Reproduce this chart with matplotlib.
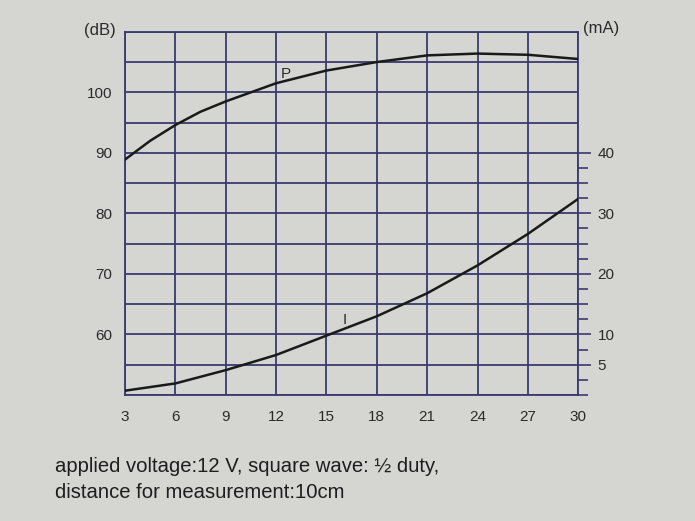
import matplotlib
matplotlib.use("Agg")
import matplotlib.pyplot as plt
from matplotlib.ticker import MultipleLocator

plt.rcParams['font.family'] = ['Liberation Sans', 'DejaVu Sans']

# sound pressure P (dB) vs voltage (V)
volts_p = [3, 4.5, 6, 7.5, 9, 12, 15, 18, 21, 24, 27, 30]
p_db = [88.9, 92.0, 94.6, 96.8, 98.5, 101.5, 103.6, 105.0, 106.1, 106.4, 106.2, 105.5]

# current I (mA) vs voltage (V)
volts_i = [3, 6, 9, 12, 15, 18, 21, 24, 27, 30]
i_ma = [0.7, 1.9, 4.1, 6.6, 9.8, 13.0, 16.8, 21.4, 26.6, 32.4]

x_ticks = [3, 6, 9, 12, 15, 18, 21, 24, 27, 30]
db_labels = [60, 70, 80, 90, 100]
ma_labels = [5, 10, 20, 30, 40]

bg = '#d5d5d1'
grid_col = '#3b3a70'
txt = '#2b2b2b'

fig = plt.figure(figsize=(6.95, 5.21), dpi=100, facecolor=bg)
ax = fig.add_axes([0.180, 0.242, 0.652, 0.697])
ax.set_facecolor(bg)

ax.plot(volts_p, p_db, color='#1a1a1a', lw=1.8, zorder=3)
ax.set_xlim(3, 30)
ax.set_ylim(50, 110)
ax.set_xticks(x_ticks)
ax.set_yticks(range(50, 111, 5))
ax.set_yticklabels([str(v) if v in db_labels else '' for v in range(50, 111, 5)])
ax.grid(True, color=grid_col, lw=1.3)
ax.tick_params(axis='both', length=0, labelsize=11, colors=txt)
ax.tick_params(axis='x', pad=11)
ax.tick_params(axis='y', pad=9)
for s in ax.spines.values():
    s.set_color(grid_col)
    s.set_linewidth(1.3)
ax.text(12.6, 101.8, 'P', fontsize=11, color=txt, ha='center', va='bottom')

ax2 = ax.twinx()
ax2.plot(volts_i, i_ma, color='#1a1a1a', lw=1.8, zorder=3)
ax2.set_ylim(0, 60)
ax2.set_yticks(ma_labels)
ax2.yaxis.set_minor_locator(MultipleLocator(2.5))
ax2.set_yticks([v * 2.5 for v in range(17)], minor=True)
ax2.tick_params(axis='y', which='major', length=9, width=1.2, color=grid_col,
                labelsize=11, labelcolor=txt, pad=5)
ax2.tick_params(axis='y', which='minor', length=7, width=1.2, color=grid_col)
for s in ax2.spines.values():
    s.set_visible(False)
ax2.text(16.1, 11.2, 'I', fontsize=11, color=txt, ha='center', va='bottom')

fig.text(84 / 695, 1 - 30 / 521, '(dB)', fontsize=12, color=txt, va='center')
fig.text(583 / 695, 1 - 28 / 521, '(mA)', fontsize=12, color=txt, va='center')

fig.text(55 / 695, 1 - 467 / 521, 'applied voltage:12 V, square wave: ½ duty,',
         fontsize=14.6, color='#1e1e1e', va='center')
fig.text(55 / 695, 1 - 493 / 521, 'distance for measurement:10cm',
         fontsize=14.6, color='#1e1e1e', va='center')

fig.savefig('out.png', dpi=100, facecolor=bg)
